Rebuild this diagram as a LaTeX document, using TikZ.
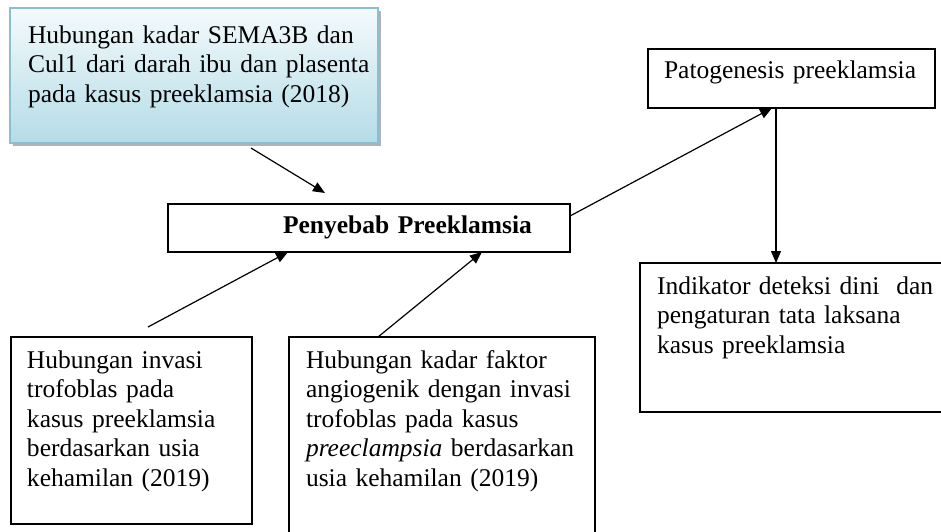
\documentclass[tikz,border=0pt]{standalone}
\usepackage{fontspec}
\setmainfont{Liberation Serif}
\usetikzlibrary{arrows.meta,calc,shadows}
\tikzset{
  box/.style={draw=black, line width=1.2pt, inner sep=0pt, outer sep=0pt, anchor=north west, fill=white},
  srcbox/.style={draw={rgb,255:red,140;green,190;blue,208}, line width=1.2pt, inner sep=0pt, outer sep=0pt, anchor=north west,
    top color={rgb,255:red,244;green,250;blue,252}, bottom color={rgb,255:red,180;green,220;blue,231},
    drop shadow={shadow xshift=3pt, shadow yshift=-3pt, opacity=0.6, fill=gray}},
  txt/.style={anchor=north west, inner sep=0pt, outer sep=0pt, align=left, text width=420pt,
    font=\fontsize{25.5}{29.5}\selectfont},
  conn/.style={line width=1.2pt, -{Triangle[length=12pt,width=10pt]}}
}
\begin{document}
\begin{tikzpicture}[x=1pt,y=-1pt]
\clip (0,0) rectangle (941,531);
\fill[white] (0,0) rectangle (941,531);
% boxes
\node[srcbox, minimum width=368pt, minimum height=135pt] (src) at (10,8) {};
\node[box, minimum width=402pt, minimum height=48pt] (pen) at (168,204) {};
\node[box, minimum width=287pt, minimum height=59pt] (pat) at (648,49) {};
\node[box, minimum width=310pt, minimum height=149pt] (ind) at (640,263) {};
\node[box, minimum width=241pt, minimum height=187pt] (inv) at (11,337) {};
\node[box, minimum width=306pt, minimum height=210pt] (ang) at (289,337) {};
% texts
\node[txt] (srct) at (28,22.35) {\strut Hubungan kadar SEMA3B dan\\Cul1 dari darah ibu dan plasenta\\pada kasus preeklamsia (2018)};
\node[txt] (pent) at (283,212.35) {\strut\bfseries Penyebab Preeklamsia};
\node[txt] (patt) at (664,57.35) {\strut Patogenesis preeklamsia};
\node[txt] (indt) at (657,273.35) {\strut Indikator deteksi dini\ \ dan\\pengaturan tata laksana\\kasus preeklamsia};
\node[txt] (invt) at (27,347.35) {\strut Hubungan invasi\\trofoblas pada\\kasus preeklamsia\\berdasarkan usia\\kehamilan (2019)};
\node[txt] (angt) at (306,347.35) {\strut Hubungan kadar faktor\\angiogenik dengan invasi\\trofoblas pada kasus\\\textit{preeclampsia} berdasarkan\\usia kehamilan (2019)};
% connectors
\coordinate (a1s) at (251,148);
\coordinate (a1e) at (325,193);
\coordinate (a2s) at (148,327);
\draw[conn] (a1s) -- (a1e);
\draw[conn] (a2s) -- ($(pen.south west)+(120,0)$);
\draw[conn] ($(ang.north west)+(89,0)$) -- ($(pen.south west)+(314,0)$);
\draw[conn] ($(pen.north east)+(0,12)$) -- ($(pat.south west)+(124,0)$);
\draw[conn] ($(pat.south west)+(128,0)$) -- ($(ind.north west)+(136,0)$);
\end{tikzpicture}
\end{document}
